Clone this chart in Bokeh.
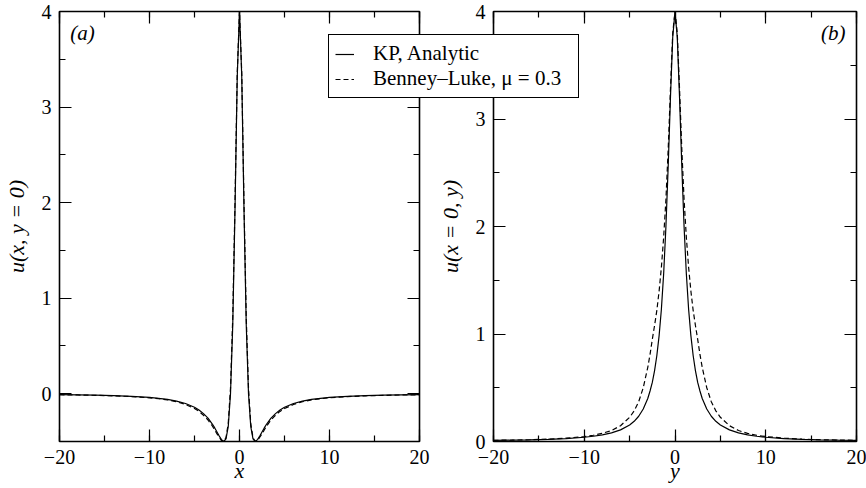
from bokeh.plotting import figure
from bokeh.models import (Range1d, LinearAxis, SingleIntervalTicker, Legend,
                          LegendItem, Label)
from bokeh.layouts import row
from bokeh.embed import file_html
from bokeh.resources import INLINE

FONT = "Liberation Serif"

# ---------------- data ----------------
# panel (a): u(x, y = 0)
x_a = [-20, -18, -16, -14, -12, -10, -9, -8, -7, -6, -5, -4.5, -4, -3.5, -3,
       -2.75, -2.5, -2.25, -2, -1.75, -1.5, -1.25, -1, -0.75, -0.5, -0.25, 0,
       0.25, 0.5, 0.75, 1, 1.25, 1.5, 1.75, 2, 2.25, 2.5, 2.75, 3, 3.5, 4, 4.5,
       5, 6, 7, 8, 9, 10, 12, 14, 16, 18, 20]
kp_a = [-0.010, -0.0122, -0.0155, -0.020, -0.027, -0.039, -0.048, -0.060,
        -0.077, -0.102, -0.142, -0.171, -0.208, -0.255, -0.32, -0.358, -0.40,
        -0.443, -0.48, -0.50, -0.473, -0.343, 0.0, 0.72, 1.92, 3.32, 4.0,
        3.32, 1.92, 0.72, 0.0, -0.343, -0.473, -0.50, -0.48, -0.443, -0.40,
        -0.358, -0.32, -0.255, -0.208, -0.171, -0.142, -0.102, -0.077, -0.060,
        -0.048, -0.039, -0.027, -0.020, -0.0155, -0.0122, -0.010]
bl_a = [-0.011, -0.013, -0.017, -0.022, -0.030, -0.043, -0.052, -0.065,
        -0.084, -0.112, -0.155, -0.185, -0.225, -0.275, -0.34, -0.38, -0.42,
        -0.455, -0.49, -0.50, -0.46, -0.31, 0.06, 0.80, 2.0, 3.36, 4.0,
        3.36, 2.0, 0.80, 0.06, -0.31, -0.46, -0.50, -0.49, -0.455, -0.42,
        -0.38, -0.34, -0.275, -0.225, -0.185, -0.155, -0.112, -0.084, -0.065,
        -0.052, -0.043, -0.030, -0.022, -0.017, -0.013, -0.011]

# panel (b): u(x = 0, y)
y_b = [-20, -18, -16, -14, -12, -10, -9, -8, -7, -6, -5, -4.5, -4, -3.5, -3,
       -2.75, -2.5, -2.25, -2, -1.75, -1.5, -1.25, -1, -0.75, -0.5, -0.25, 0,
       0.25, 0.5, 0.75, 1, 1.25, 1.5, 1.75, 2, 2.25, 2.5, 2.75, 3, 3.5, 4, 4.5,
       5, 6, 7, 8, 9, 10, 12, 14, 16, 18, 20]
kp_b = [0.010, 0.0123, 0.0156, 0.0203, 0.0276, 0.0396, 0.0488, 0.0615, 0.080,
        0.108, 0.154, 0.188, 0.235, 0.302, 0.40, 0.47, 0.55, 0.66, 0.80, 0.985,
        1.23, 1.56, 2.0, 2.56, 3.2, 3.76, 4.0, 3.76, 3.2, 2.56, 2.0, 1.56,
        1.23, 0.985, 0.80, 0.66, 0.55, 0.47, 0.40, 0.302, 0.235, 0.188, 0.154,
        0.108, 0.080, 0.0615, 0.0488, 0.0396, 0.0276, 0.0203, 0.0156, 0.0123,
        0.010]
bl_b = [0.011, 0.013, 0.0165, 0.022, 0.031, 0.046, 0.058, 0.076, 0.102, 0.147,
        0.225, 0.285, 0.37, 0.50, 0.69, 0.81, 0.95, 1.08, 1.22, 1.40, 1.62,
        1.90, 2.25, 2.72, 3.28, 3.80, 4.0, 3.80, 3.28, 2.72, 2.25, 1.90, 1.62,
        1.40, 1.22, 1.08, 0.95, 0.81, 0.69, 0.50, 0.37, 0.285, 0.225, 0.147,
        0.102, 0.076, 0.058, 0.046, 0.031, 0.022, 0.0165, 0.013, 0.011]

x_ticks = [-20, -10, 0, 10, 20]
x_tick_labels = ["\u221220", "\u221210", "0", "10", "20"]
u_ticks = [0, 1, 2, 3, 4]
u_tick_labels = ["0", "1", "2", "3", "4"]

legend_labels = ["KP, Analytic", "Benney\u2013Luke, \u03bc = 0.3"]
panel_labels = ["(a)", "(b)"]
axis_labels = {"a_x": "x", "a_y": "u(x, y = 0)", "b_x": "y", "b_y": "u(x = 0, y)"}


def add_axis(p, kind, place, label=None, show_labels=True, label_standoff=6):
    if kind == "x":
        ticker = SingleIntervalTicker(interval=10, num_minor_ticks=2)
        overrides = dict(zip(x_ticks, x_tick_labels))
    else:
        ticker = SingleIntervalTicker(interval=1, num_minor_ticks=2)
        overrides = dict(zip(u_ticks, u_tick_labels))
    ax = LinearAxis(ticker=ticker, major_label_overrides=overrides)
    ax.axis_line_color = None
    ax.major_tick_in = 12
    ax.major_tick_out = 0
    ax.minor_tick_in = 6
    ax.minor_tick_out = 0
    ax.major_tick_line_color = "black"
    ax.minor_tick_line_color = "black"
    ax.major_tick_line_width = 1.2
    ax.minor_tick_line_width = 1.2
    if show_labels:
        ax.major_label_text_font = FONT
        ax.major_label_text_font_size = "20px"
        ax.major_label_text_color = "black"
        ax.major_label_standoff = label_standoff
    else:
        ax.major_label_text_font_size = "0px"
        ax.major_label_text_color = None
        ax.major_label_standoff = 0
    if label is not None:
        ax.axis_label = label
        ax.axis_label_text_font = FONT
        ax.axis_label_text_font_size = "22px"
        ax.axis_label_text_font_style = "italic"
        ax.axis_label_text_color = "black"
    p.add_layout(ax, place)
    return ax


def make_fig(width, height, xr, yr, borders, margin, transparent=False,
             outline=True):
    left, right, top, bottom = borders
    p = figure(width=width, height=height, x_range=Range1d(*xr),
               y_range=Range1d(*yr), output_backend="svg", toolbar_location=None,
               x_axis_location=None, y_axis_location=None,
               min_border_left=left, min_border_right=right,
               min_border_top=top, min_border_bottom=bottom)
    p.margin = margin
    p.grid.visible = False
    if outline:
        p.outline_line_color = "black"
        p.outline_line_width = 1.6
    else:
        p.outline_line_color = None
    if transparent:
        p.background_fill_color = None
        p.border_fill_color = None
    else:
        p.background_fill_color = "white"
        p.border_fill_color = "white"
    return p


# ---------------- panel (a) ----------------
pa = make_fig(430, 488, (-20, 20), (-0.5, 4), (57, 11, 11, 47), (0, 0, 0, 0))
bx = add_axis(pa, "x", "below", axis_labels["a_x"], label_standoff=8)
bx.axis_label_standoff = -9
ly = add_axis(pa, "y", "left", axis_labels["a_y"], label_standoff=8)
ly.axis_label_standoff = 10
add_axis(pa, "x", "above", show_labels=False)
add_axis(pa, "y", "right", show_labels=False)
pa.line(x_a, kp_a, line_color="black", line_width=1.2)
pa.line(x_a, bl_a, line_color="black", line_width=1.2, line_dash="5 3")
pa.add_layout(Label(x=-18.8, y=3.77, text=panel_labels[0], text_font=FONT,
                    text_font_size="21px", text_font_style="italic",
                    text_baseline="alphabetic", text_align="left",
                    text_color="black"))

# ---------------- panel (b) ----------------
pb = make_fig(556, 488, (-20, 20), (0, 4), (183, 10, 11, 47), (0, 0, 0, -120),
              transparent=True)
bx2 = add_axis(pb, "x", "below", axis_labels["b_x"], label_standoff=8)
bx2.axis_label_standoff = -9
ly2 = add_axis(pb, "y", "left", axis_labels["b_y"], label_standoff=8)
ly2.axis_label_standoff = 10
add_axis(pb, "x", "above", show_labels=False)
add_axis(pb, "y", "right", show_labels=False)
pb.line(y_b, kp_b, line_color="black", line_width=1.2)
pb.line(y_b, bl_b, line_color="black", line_width=1.2, line_dash="5 3")
pb.add_layout(Label(x=18.8, y=3.80, text=panel_labels[1], text_font=FONT,
                    text_font_size="21px", text_font_style="italic",
                    text_baseline="alphabetic", text_align="right",
                    text_color="black"))

# ---------------- legend (own transparent figure laid over both panels) ----
# same vertical frame as the panels (frame 11..441), legend placed inside it
pc = make_fig(253, 488, (-20, 20), (10, 11), (0, 0, 11, 47), (0, 0, 0, -540),
              transparent=True, outline=False)
c1 = pc.line(y_b, kp_b, line_color="black", line_width=1.2)
c2 = pc.line(y_b, bl_b, line_color="black", line_width=1.2, line_dash="5 3")
legend = Legend(items=[LegendItem(label=legend_labels[0], renderers=[c1]),
                       LegendItem(label=legend_labels[1], renderers=[c2])],
                location=(2, 343))
legend.border_line_color = "black"
legend.border_line_width = 1
legend.border_line_alpha = 1
legend.background_fill_color = "white"
legend.background_fill_alpha = 1
legend.label_text_font = FONT
legend.label_text_font_size = "21px"
legend.label_text_color = "black"
legend.glyph_width = 19
legend.glyph_height = 22
legend.label_height = 22
legend.label_width = 199
legend.label_standoff = 19
legend.padding = 6
legend.spacing = 0
legend.margin = 0
pc.add_layout(legend)

layout = row(pa, pb, pc)
open("out.html", "w").write(file_html(layout, INLINE))
